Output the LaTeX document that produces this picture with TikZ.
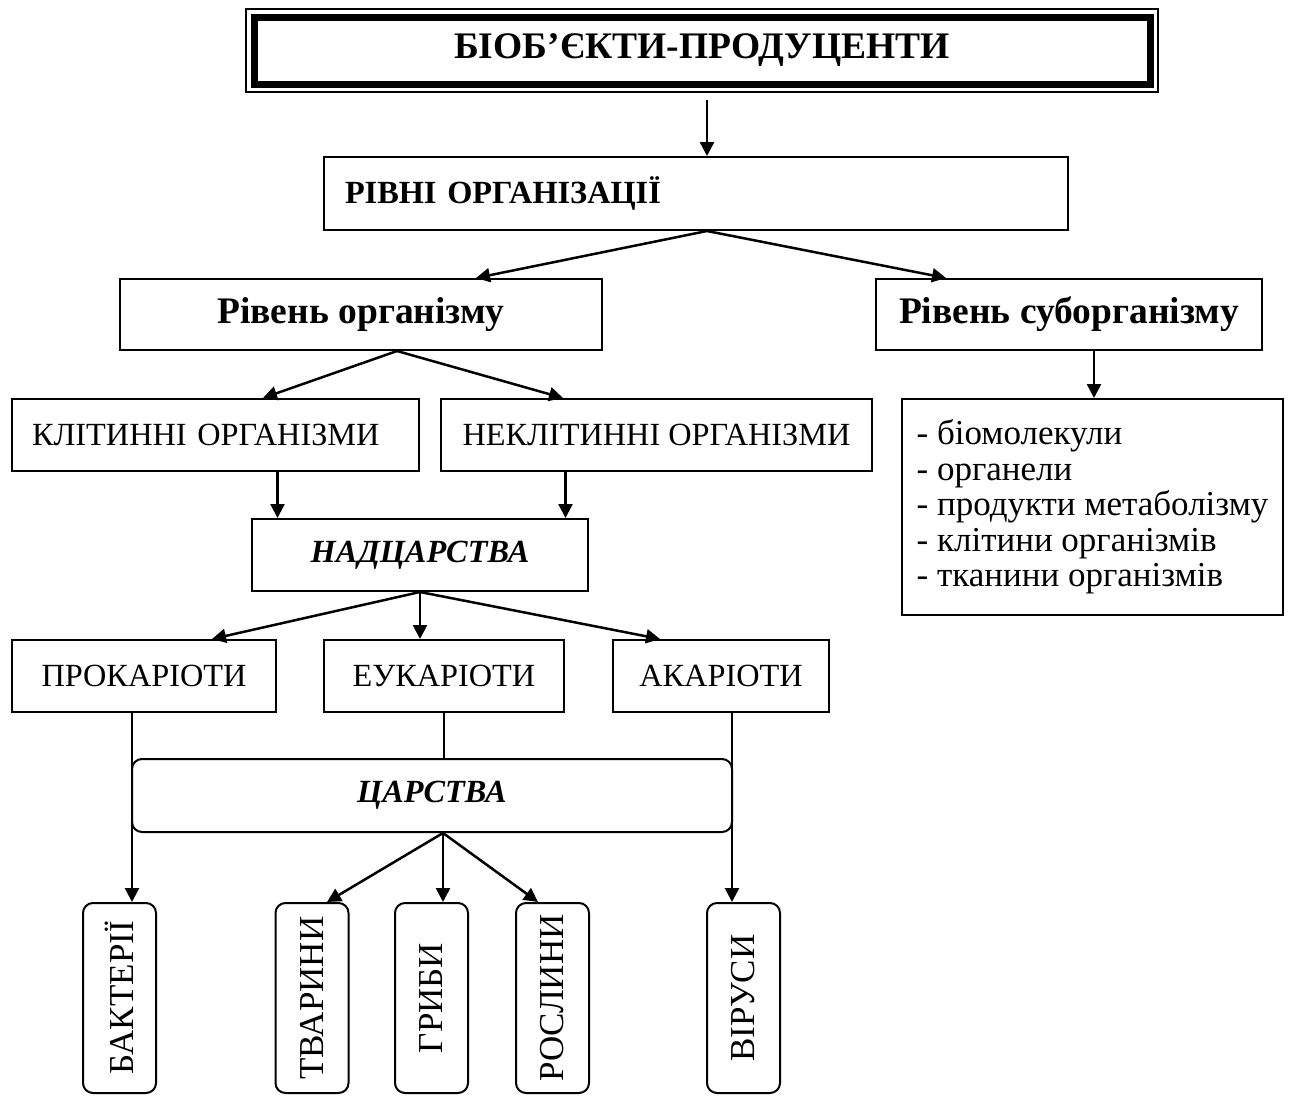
\documentclass[tikz,border=0pt]{standalone}
\usepackage{fontspec}
\setmainfont{Liberation Serif}
\usepackage{graphicx}
\usetikzlibrary{
  arrows.meta,
  positioning,
  calc
}
\newcommand{\bodyfont}{\fontsize{32.3}{35.5}\selectfont}
\newcommand{\listfont}{\fontsize{35}{35.5}\selectfont}
\newcommand{\headfont}{\fontsize{37.5}{40}\selectfont\bfseries}

\begin{document}
\begin{tikzpicture}[
  x=1pt, y=-1pt,
  box/.style={draw, line width=2pt, inner sep=0pt, minimum height=72pt, font=\bodyfont},
  rbox/.style={box, rounded corners=10pt},
  vbox/.style={rbox, font=\listfont, minimum width=73pt, minimum height=190pt},
  link/.style={-{Triangle[length=14pt,width=14pt]}, line width=2.5pt},
  plain/.style={line width=2pt}
]
  \useasboundingbox (0,0) rectangle (1292,1095);

  % Title with a double frame
  \node[box, line width=7pt, minimum width=896pt, minimum height=67pt, font=\headfont] (title) at (702,50.5) {БІОБ’ЄКТИ-ПРОДУЦЕНТИ};
  \draw[line width=1.5pt] ([shift={(-4.5,-4.5)}]title.north west) rectangle ([shift={(4.5,4.5)}]title.south east);

  \node[box, font=\bodyfont\bfseries, minimum width=744pt, minimum height=73pt, text width=702pt, align=left] (rivni) at (696,193.5) {РІВНІ ОРГАНІЗАЦІЇ};

  \node[box, font=\headfont, minimum width=482pt, minimum height=71pt] (org) at (361,314.5) {Рівень організму};
  \node[box, font=\headfont, minimum width=386pt, minimum height=71pt] (subo) at (1069,314.5) {Рівень суборганізму};

  \node[box, minimum width=407pt, text width=367pt, align=left] (kl) at (215.5,435) {КЛІТИННІ ОРГАНІЗМИ};
  \node[box, minimum width=431pt] (nekl) at (656.5,435) {НЕКЛІТИННІ ОРГАНІЗМИ};
  \node[box, font=\listfont, minimum width=381pt, minimum height=216pt, align=left] (parts) at (1092.5,507)
    {- біомолекули\\- органели\\- продукти метаболізму\\- клітини організмів\\- тканини організмів};

  \node[box, font=\bodyfont\bfseries\itshape, minimum width=336pt] (nad) at (420,555) {НАДЦАРСТВА};

  \node[box, minimum width=264pt] (pro) at (144,676) {ПРОКАРІОТИ};
  \node[box, minimum width=240pt] (eu) at (444,676) {ЕУКАРІОТИ};
  \node[box, minimum width=216pt] (aka) at (721,676) {АКАРІОТИ};

  \node[rbox, font=\bodyfont\bfseries\itshape, minimum width=600pt, minimum height=73pt] (tsar) at (432,795.5) {ЦАРСТВА};

  % Kingdoms
  \node[vbox] (bak) at (119.5,998) {\rotatebox{90}{БАКТЕРІЇ}};
  \node[vbox] (tva) at (312,998) {\rotatebox{90}{ТВАРИНИ}};
  \node[vbox] (gri) at (431.5,998) {\rotatebox{90}{ГРИБИ}};
  \node[vbox] (ros) at (552.5,998) {\rotatebox{90}{РОСЛИНИ}};
  \node[vbox] (vir) at (743.5,998) {\rotatebox{90}{ВІРУСИ}};

  \draw[link] ([xshift=5pt,yshift=-12.5pt]title.south) -- ([xshift=11pt]rivni.north);

  \coordinate (rj) at ([xshift=11pt]rivni.south);
  \draw[link] (rj) -- ([xshift=115pt]org.north);
  \draw[link] (rj) -- ([xshift=-123pt]subo.north);

  \coordinate (oj) at ([xshift=36pt]org.south);
  \draw[link] (oj) -- ([xshift=47.5pt]kl.north);
  \draw[link] (oj) -- ([xshift=-93.5pt]nekl.north);
  \draw[link] ([xshift=25pt]subo.south) -- ([xshift=1.5pt]parts.north);

  \draw[link] ([xshift=62pt]kl.south) -- ([xshift=62pt]kl.south |- nad.north);
  \draw[link] ([xshift=-91pt]nekl.south) -- ([xshift=-91pt]nekl.south |- nad.north);

  \coordinate (nj) at (nad.south);
  \draw[link] (nj) -- ([xshift=68pt]pro.north);
  \draw[link] (nj) -- ([xshift=-24pt]eu.north);
  \draw[link] (nj) -- ([xshift=-61pt]aka.north);

  \draw[plain] (eu.south) -- (eu.south |- tsar.north);
  \draw[link] ([xshift=-12pt]pro.south) -- ([xshift=-12pt]pro.south |- bak.north);
  \draw[link] ([xshift=11pt]aka.south) -- ([xshift=11pt]aka.south |- vir.north);

  \coordinate (cj) at ([xshift=11pt]tsar.south);
  \draw[link] (cj) -- ([xshift=15pt]tva.north);
  \draw[link] (cj) -- (cj |- gri.north);
  \draw[link] (cj) -- ([xshift=-14.5pt]ros.north);
\end{tikzpicture}
\end{document}
